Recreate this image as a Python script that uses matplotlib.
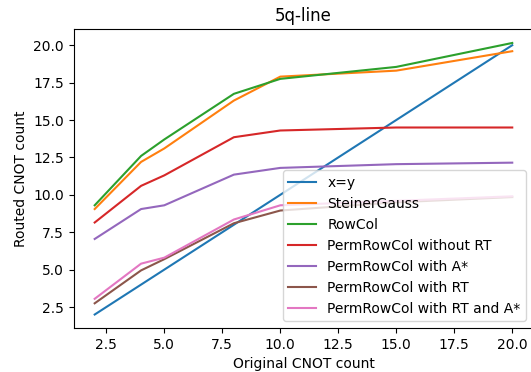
import matplotlib
matplotlib.use("Agg")
import matplotlib.pyplot as plt

x = [2, 4, 5, 8, 10, 15, 20]

steiner_gauss = [9.05, 12.2, 13.1, 16.3, 17.9, 18.3, 19.6]
rowcol = [9.3, 12.6, 13.7, 16.75, 17.75, 18.55, 20.15]
prc_no_rt = [8.15, 10.6, 11.3, 13.85, 14.3, 14.5, 14.5]
prc_astar = [7.05, 9.05, 9.3, 11.35, 11.8, 12.05, 12.15]
prc_rt = [2.75, 4.95, 5.7, 8.1, 8.95, 9.5, 9.85]
prc_rt_astar = [3.05, 5.4, 5.8, 8.35, 9.3, 9.6, 9.9]

labels = ["x=y", "SteinerGauss", "RowCol", "PermRowCol without RT",
          "PermRowCol with A*", "PermRowCol with RT", "PermRowCol with RT and A*"]

fig = plt.figure(figsize=(5.31, 3.72), dpi=100)
ax = fig.add_subplot(111)
# the original was cropped tightly, so the right spine sits just off the image
fig.subplots_adjust(left=0.139, right=1.004, top=0.921, bottom=0.118)

ax.plot(x, x, label=labels[0])
ax.plot(x, steiner_gauss, label=labels[1])
ax.plot(x, rowcol, label=labels[2])
ax.plot(x, prc_no_rt, label=labels[3])
ax.plot(x, prc_astar, label=labels[4])
ax.plot(x, prc_rt, label=labels[5])
ax.plot(x, prc_rt_astar, label=labels[6])

ax.set_title("5q-line")
ax.set_xlabel("Original CNOT count")
ax.set_ylabel("Routed CNOT count")
ax.legend(loc="lower right")

fig.savefig("out.png", dpi=100)
